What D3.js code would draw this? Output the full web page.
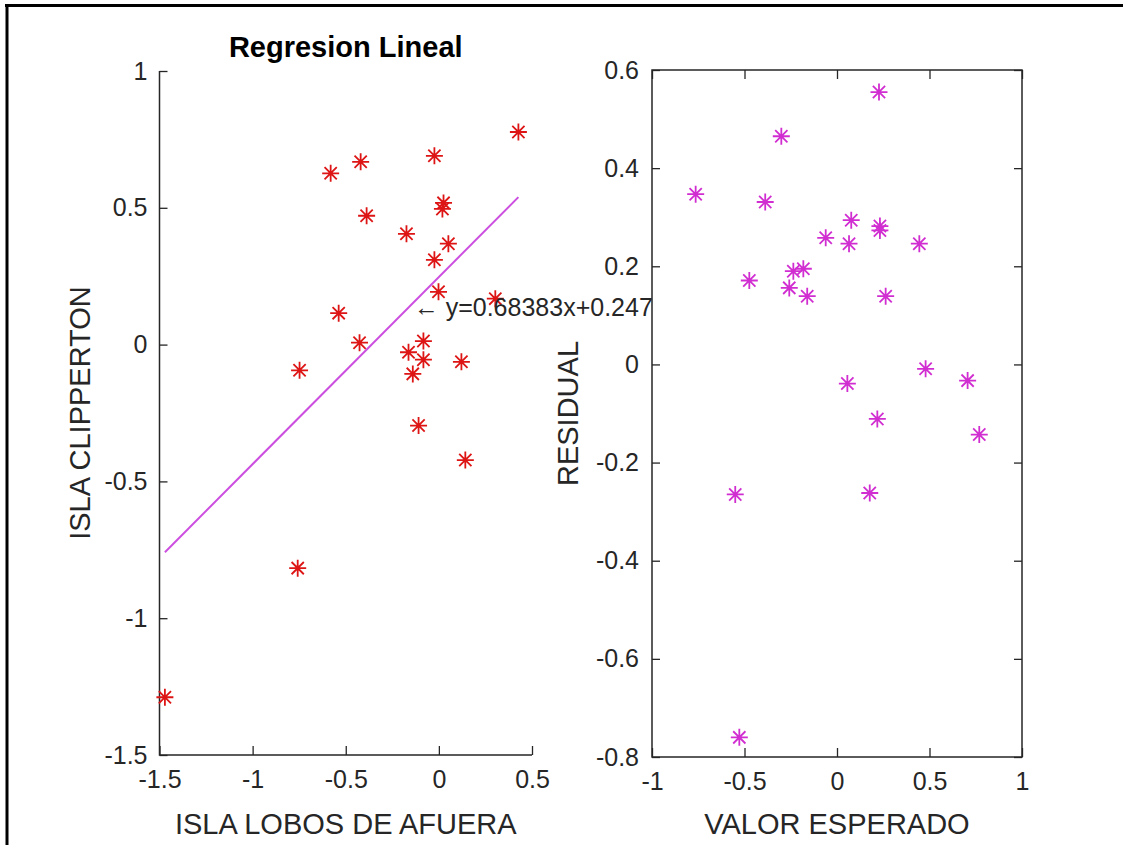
<!DOCTYPE html>
<html>
<head>
<meta charset="utf-8">
<script src="https://cdn.jsdelivr.net/npm/d3@7"></script>
<style>
  body { margin: 0; background: #fff; }
  svg text { font-family: "Liberation Sans", Arial, sans-serif; fill: #262626; }
</style>
</head>
<body>
<div id="chart"></div>
<script>
// --- DATA ---
// left panel: observed pairs
var lobosX = [0.427, -0.581, -0.420, -0.024, -0.388, 0.025, 0.019, -0.174, 0.051, -0.024, -0.002, 0.303,
              -0.538, -0.426, -0.083, -0.163, -0.083, 0.121, -0.140, -0.748, -0.109, 0.142, -0.758, -1.471];
var clippertonY = [0.777, 0.626, 0.668, 0.690, 0.471, 0.518, 0.496, 0.405, 0.369, 0.310, 0.193, 0.168,
                   0.115, 0.007, 0.013, -0.028, -0.055, -0.063, -0.107, -0.094, -0.296, -0.422, -0.817, -1.289];
// right panel: expected value vs residual
var esperado = [0.227, -0.301, -0.764, -0.388, 0.077, 0.232, 0.232, -0.061, 0.065, 0.445, -0.182, -0.236,
                -0.474, -0.258, -0.161, 0.263, 0.479, 0.706, 0.056, 0.218, 0.769, -0.550, 0.177, -0.528];
var residual = [0.555, 0.465, 0.347, 0.331, 0.294, 0.282, 0.273, 0.258, 0.246, 0.246, 0.195, 0.190,
                0.171, 0.156, 0.139, 0.139, -0.009, -0.033, -0.039, -0.111, -0.143, -0.265, -0.262, -0.760];

var fitSlope = 0.68383;
var fitIntercept = 0.247;
var eqText = "\u2190 y=0.68383x+0.247";
var eqAnchor = [-0.135, 0.135];

var leftXTicks = [-1.5, -1, -0.5, 0, 0.5];
var leftYTicks = [-1.5, -1, -0.5, 0, 0.5, 1];
var rightXTicks = [-1, -0.5, 0, 0.5, 1];
var rightYTicks = [-0.8, -0.6, -0.4, -0.2, 0, 0.2, 0.4, 0.6];

// --- SETUP ---
var width = 1123, height = 845;
var red = "#dd1515", magenta = "#d12ed1", lineMag = "#cc4fe0", axisCol = "#262626";

var svg = d3.select("#chart").append("svg")
  .attr("width", width).attr("height", height);

svg.append("rect").attr("width", width).attr("height", height).attr("fill", "#fff");

// frame from the screenshot (top + left only)
svg.append("line").attr("x1", 5).attr("x2", width).attr("y1", 5.5).attr("y2", 5.5)
  .attr("stroke", "#000").attr("stroke-width", 3);
svg.append("line").attr("x1", 7).attr("x2", 7).attr("y1", 4).attr("y2", height)
  .attr("stroke", "#000").attr("stroke-width", 3);

// asterisk marker like MATLAB '*'
function star(r) {
  var d = r * 0.72;
  return "M" + (-r) + ",0H" + r + "M0," + (-r) + "V" + r +
         "M" + (-d) + "," + (-d) + "L" + d + "," + d +
         "M" + (-d) + "," + d + "L" + d + "," + (-d);
}

function styleAxis(g) {
  g.select(".domain").remove();
  g.selectAll(".tick line").attr("stroke", axisCol).attr("stroke-width", 1.3);
  g.selectAll(".tick text").attr("fill", axisCol).style("font-size", "25px");
}

// --- LEFT PANEL ---
var L = { x0: 159.5, x1: 532, y0: 71, y1: 755 };
var xL = d3.scaleLinear().domain([-1.5, 0.5]).range([L.x0, L.x1]);
var yL = d3.scaleLinear().domain([-1.5, 1]).range([L.y1, L.y0]);

svg.append("g").attr("transform", "translate(0," + L.y1 + ")")
  .call(d3.axisBottom(xL).tickValues(leftXTicks).tickFormat(d => String(d))
        .tickSizeInner(-9).tickSizeOuter(0).tickPadding(15))
  .call(styleAxis);
svg.append("g").attr("transform", "translate(" + L.x0 + ",0)")
  .call(d3.axisLeft(yL).tickValues(leftYTicks).tickFormat(d => String(d))
        .tickSizeInner(-8).tickSizeOuter(0).tickPadding(12))
  .call(styleAxis);

// only left + bottom spines (box off)
svg.append("path")
  .attr("d", "M" + L.x0 + "," + L.y0 + "V" + L.y1 + "H" + L.x1)
  .attr("fill", "none").attr("stroke", axisCol).attr("stroke-width", 1.5);

var xMin = d3.min(lobosX), xMax = d3.max(lobosX);
svg.append("line")
  .attr("x1", xL(xMin)).attr("y1", yL(fitSlope * xMin + fitIntercept))
  .attr("x2", xL(xMax)).attr("y2", yL(fitSlope * xMax + fitIntercept))
  .attr("stroke", lineMag).attr("stroke-width", 2);

svg.selectAll(".pt-left").data(lobosX).enter().append("path")
  .attr("class", "pt-left")
  .attr("transform", (d, i) => "translate(" + xL(d) + "," + yL(clippertonY[i]) + ")")
  .attr("d", star(8.5))
  .attr("stroke", red).attr("stroke-width", 1.8).attr("fill", "none");

svg.append("text")
  .attr("x", xL(eqAnchor[0])).attr("y", yL(eqAnchor[1]))
  .attr("dy", "0.35em")
  .style("font-size", "25px")
  .text(eqText);

svg.append("text")
  .attr("x", (L.x0 + L.x1) / 2).attr("y", 57)
  .attr("text-anchor", "middle")
  .style("font-size", "29px").style("font-weight", "bold")
  .style("fill", "#000")
  .text("Regresion Lineal");

svg.append("text")
  .attr("x", (L.x0 + L.x1) / 2).attr("y", 834)
  .attr("text-anchor", "middle")
  .style("font-size", "29px")
  .text("ISLA LOBOS DE AFUERA");

svg.append("text")
  .attr("transform", "translate(90," + (L.y0 + L.y1) / 2 + ") rotate(-90)")
  .attr("text-anchor", "middle")
  .style("font-size", "29px")
  .text("ISLA CLIPPERTON");

// --- RIGHT PANEL ---
var R = { x0: 652, x1: 1022, y0: 70, y1: 757 };
var xR = d3.scaleLinear().domain([-1, 1]).range([R.x0, R.x1]);
var yR = d3.scaleLinear().domain([-0.8, 0.6]).range([R.y1, R.y0]);

// white plot box hides the overflow of the equation text
svg.append("rect")
  .attr("x", R.x0).attr("y", R.y0).attr("width", R.x1 - R.x0).attr("height", R.y1 - R.y0)
  .attr("fill", "#fff");

svg.append("g").attr("transform", "translate(0," + R.y1 + ")")
  .call(d3.axisBottom(xR).tickValues(rightXTicks).tickFormat(d => String(d))
        .tickSizeInner(-9).tickSizeOuter(0).tickPadding(15))
  .call(styleAxis);
svg.append("g").attr("transform", "translate(0," + R.y0 + ")")
  .call(d3.axisTop(xR).tickValues(rightXTicks).tickFormat("")
        .tickSizeInner(-9).tickSizeOuter(0))
  .call(styleAxis);
svg.append("g").attr("transform", "translate(" + R.x0 + ",0)")
  .call(d3.axisLeft(yR).tickValues(rightYTicks).tickFormat(d => String(d))
        .tickSizeInner(-8).tickSizeOuter(0).tickPadding(13))
  .call(styleAxis);
svg.append("g").attr("transform", "translate(" + R.x1 + ",0)")
  .call(d3.axisRight(yR).tickValues(rightYTicks).tickFormat("")
        .tickSizeInner(-8).tickSizeOuter(0))
  .call(styleAxis);

svg.append("rect")
  .attr("x", R.x0).attr("y", R.y0).attr("width", R.x1 - R.x0).attr("height", R.y1 - R.y0)
  .attr("fill", "none").attr("stroke", axisCol).attr("stroke-width", 1.5);

svg.selectAll(".pt-right").data(esperado).enter().append("path")
  .attr("class", "pt-right")
  .attr("transform", (d, i) => "translate(" + xR(d) + "," + yR(residual[i]) + ")")
  .attr("d", star(8.5))
  .attr("stroke", magenta).attr("stroke-width", 1.8).attr("fill", "none");

svg.append("text")
  .attr("x", (R.x0 + R.x1) / 2).attr("y", 834)
  .attr("text-anchor", "middle")
  .style("font-size", "29px")
  .text("VALOR ESPERADO");

svg.append("text")
  .attr("transform", "translate(578," + (R.y0 + R.y1) / 2 + ") rotate(-90)")
  .attr("text-anchor", "middle")
  .style("font-size", "29px")
  .text("RESIDUAL");
</script>
</body>
</html>
